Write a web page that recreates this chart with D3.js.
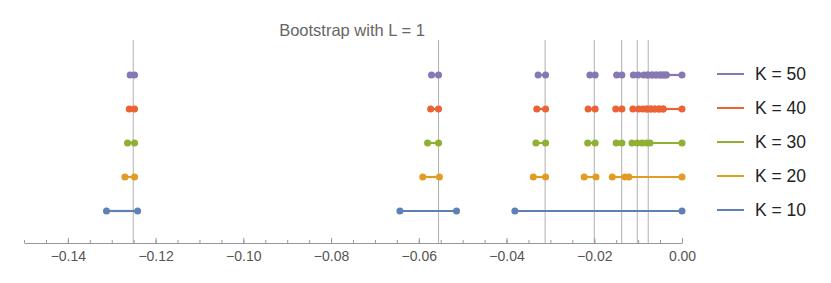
<!DOCTYPE html>
<html>
<head>
<meta charset="utf-8">
<script src="https://cdn.jsdelivr.net/npm/d3@7"></script>
<style>
    body { margin: 0; background: #fff; }
    svg { font-family: "Liberation Sans", Arial, Helvetica, sans-serif; }
</style>
</head>
<body>
<svg id="mysvg" width="831" height="283"></svg>
<script>
// series: each K is a list of [low, high] intervals
var seriesNames = ["K = 10", "K = 20", "K = 30", "K = 40", "K = 50"];
var seriesColors = ["#5e81b5", "#e19c24", "#8fb032", "#eb6235", "#8778b3"];

var k10 = [[-0.1312, -0.1241], [-0.0643, -0.0514], [-0.0381, 0]];
var k20 = [[-0.1270, -0.1248], [-0.0591, -0.0553], [-0.0339, -0.0311], [-0.0223, -0.0196],
           [-0.0159, -0.0130], [-0.0121, 0]];
var k30 = [[-0.1264, -0.1248], [-0.0580, -0.0555], [-0.0333, -0.0311], [-0.0215, -0.0198],
           [-0.0150, -0.0137], [-0.0114, -0.0102], [-0.0091, -0.0080], [-0.0073, 0]];
var k40 = [[-0.1260, -0.1248], [-0.0573, -0.0555], [-0.0331, -0.0311], [-0.0214, -0.0198],
           [-0.0151, -0.0137], [-0.0112, -0.0099], [-0.0089, -0.0080], [-0.0080, -0.0071],
           [-0.0071, -0.0062], [-0.0062, -0.0052], [-0.0052, -0.0043], [-0.0043, 0]];
var k50 = [[-0.1258, -0.1248], [-0.0571, -0.0555], [-0.0328, -0.0311], [-0.0210, -0.0198],
           [-0.0149, -0.0137], [-0.0111, -0.0100], [-0.0087, -0.0078], [-0.0078, -0.0068],
           [-0.0068, -0.0059], [-0.0059, -0.0050], [-0.0050, -0.0043], [-0.0043, -0.0036],
           [-0.0036, 0]];
var seriesValues = [k10, k20, k30, k40, k50];

// reference lines
var refLines = [-0.1251, -0.0555, -0.0312, -0.0200, -0.01375, -0.0102, -0.0077];

var xTicks = [-0.14, -0.12, -0.10, -0.08, -0.06, -0.04, -0.02, 0.00];
var xMinorTicks = d3.range(-0.15, 0.0001, 0.005);

var svg = d3.select("svg");

var x = d3.scaleLinear().domain([-0.15, 0]).range([24, 682]);
var y = d3.scalePoint().domain(seriesNames).range([211, 75]);
var axisY = 243;

svg.append("text")
    .attr("x", 352)
    .attr("y", 36)
    .attr("text-anchor", "middle")
    .attr("fill", "#666")
    .attr("font-size", "16.5px")
    .text("Bootstrap with L = 1");

// grey vertical lines
svg.append("g")
    .selectAll("line")
    .data(refLines)
    .enter().append("line")
    .attr("x1", function(d) { return x(d); })
    .attr("x2", function(d) { return x(d); })
    .attr("y1", 40)
    .attr("y2", axisY)
    .attr("stroke", "#b0b0b0")
    .attr("stroke-width", 1);

// minor ticks
svg.append("g")
    .attr("transform", "translate(0," + axisY + ")")
    .call(d3.axisBottom(x).tickValues(xMinorTicks).tickSize(-3).tickFormat(""))
    .call(function(g) {
        g.select(".domain").remove();
        g.selectAll("line").attr("stroke", "#999");
    });

// major ticks and labels
svg.append("g")
    .attr("transform", "translate(0," + axisY + ")")
    .call(d3.axisBottom(x).tickValues(xTicks).tickSizeInner(-5).tickSizeOuter(0)
        .tickPadding(8).tickFormat(d3.format(".2f")))
    .call(function(g) {
        g.select(".domain").attr("stroke", "#999");
        g.selectAll("line").attr("stroke", "#999");
        g.selectAll("text")
            .attr("fill", "#555")
            .attr("font-size", "14px")
            .attr("font-family", "\"Liberation Sans\", Arial, sans-serif");
    });

// intervals
seriesNames.forEach(function(name, i) {
    var g = svg.append("g");
    var color = seriesColors[i];
    var data = seriesValues[i];

    g.selectAll("line")
        .data(data)
        .enter().append("line")
        .attr("x1", function(d) { return x(d[0]); })
        .attr("x2", function(d) { return x(d[1]); })
        .attr("y1", y(name))
        .attr("y2", y(name))
        .attr("stroke", color)
        .attr("stroke-width", 2.2);

    var ends = [];
    data.forEach(function(d) { ends.push(d[0], d[1]); });

    g.selectAll("circle")
        .data(ends)
        .enter().append("circle")
        .attr("cx", function(d) { return x(d); })
        .attr("cy", y(name))
        .attr("r", 3.5)
        .attr("fill", color);
});

// legend
var legend = svg.append("g")
    .selectAll("g")
    .data(seriesNames)
    .enter().append("g")
    .attr("transform", function(d) { return "translate(717," + (y(d) - 1) + ")"; });

legend.append("line")
    .attr("x1", 0)
    .attr("x2", 27)
    .attr("stroke", function(d, i) { return seriesColors[i]; })
    .attr("stroke-width", 2);

legend.append("text")
    .attr("x", 38)
    .attr("dy", "0.36em")
    .attr("font-size", "17.5px")
    .attr("fill", "#222")
    .text(function(d) { return d; });
</script>
</body>
</html>
